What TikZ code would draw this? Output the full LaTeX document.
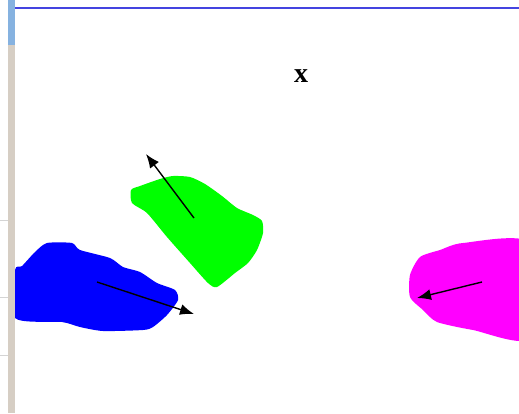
\documentclass[tikz,border=0pt]{standalone}
\usepackage{fontspec}
\setmainfont{Liberation Serif}
\usetikzlibrary{arrows.meta}
\definecolor{stripbeige}{HTML}{D6CEC4}
\definecolor{stripblue}{HTML}{86B2E0}
\definecolor{rulegray}{HTML}{D4D4D4}
\definecolor{titleblue}{HTML}{4444E0}
\definecolor{regiongreen}{HTML}{00FF00}
\definecolor{regionblue}{HTML}{0000FF}
\definecolor{regionmagenta}{HTML}{FF00FF}

\begin{document}
\begin{tikzpicture}[x=1pt, y=-1pt]
\tikzstyle{motion}=[-{Latex[length=14pt,width=11pt]}, line width=1.4pt, black]
\tikzstyle{blob}=[line join=round]
\useasboundingbox (0,0) rectangle (519,413);
\clip (0,0) rectangle (519,413);
\node[font=\bfseries\fontsize{28}{30}\selectfont, inner sep=0pt] (xlabel) at (301,76) {x};
% regions
\fill[blob, regiongreen] plot[smooth cycle, tension=0.4] coordinates {(131,190) (140,186) (160,179) (173,176) (190,177) (205,184) (222,196) (237,208) (253,215) (262,221) (263,233) (257,250) (248,263) (235,273) (217,287) (208,283) (190,263) (167,237) (147,213) (132,203)};
\fill[blob, regionblue] plot[smooth cycle, tension=0.4] coordinates {(15,270) (22,266) (35,252) (47,243) (72,243) (80,250) (110,258) (123,267) (140,272) (157,283) (175,290) (178,300) (167,315) (153,327) (143,330) (103,331) (80,327) (62,322) (15,318)};
\fill[blob, regionmagenta] plot[smooth cycle, tension=0.4] coordinates {(410,297) (410,275) (420,257) (440,250) (463,243) (530,243) (530,338) (473,330) (437,322) (423,310)};
% window frame
\fill[stripbeige] (8,0) rectangle (15,413);
\fill[stripblue] (8,0) rectangle (15,45);
\foreach \y in {220,297,355} \draw[rulegray, line width=1pt] (0,\y) -- (8,\y);
\draw[titleblue, line width=2.5pt] (15,8) -- (519,8);
% motion vectors
\coordinate (gfrom) at (194,218);
\coordinate (gto) at (146,154);
\coordinate (bfrom) at (97,282);
\coordinate (bto) at (194,314);
\coordinate (mfrom) at (482,282);
\coordinate (mto) at (417,298);
\draw[motion] (gfrom) -- (gto);
\draw[motion] (bfrom) -- (bto);
\draw[motion] (mfrom) -- (mto);
\end{tikzpicture}
\end{document}
